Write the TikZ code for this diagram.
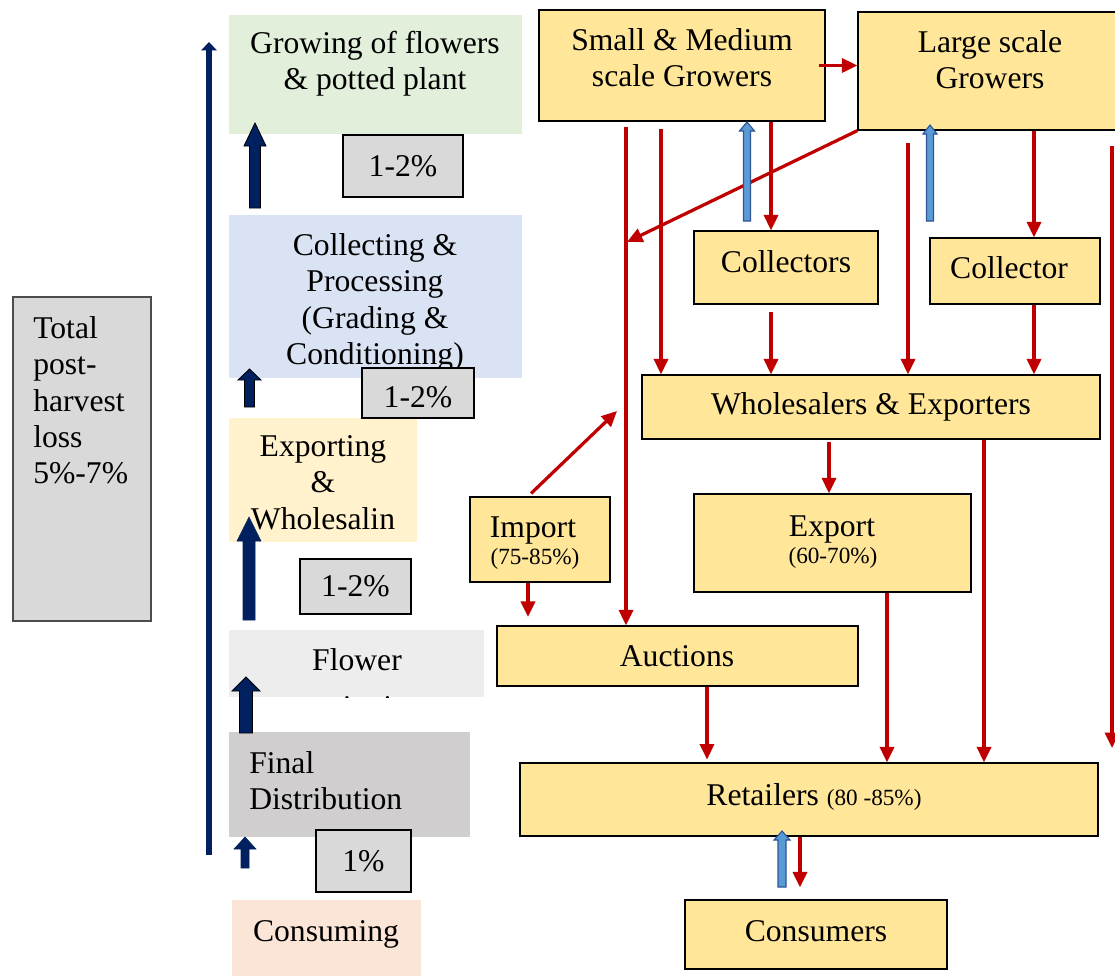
\documentclass[tikz,border=0pt]{standalone}
\usepackage{fontspec}
\setmainfont{Liberation Serif}
\usepackage{xcolor}
\usepackage{tikz}
\usetikzlibrary{arrows.meta,fit}

\definecolor{growfill}{HTML}{E2EFDA}
\definecolor{collfill}{HTML}{DAE3F3}
\definecolor{expfill}{HTML}{FFF2CC}
\definecolor{flwrfill}{HTML}{EDEDED}
\definecolor{distfill}{HTML}{D0CECE}
\definecolor{cnsmfill}{HTML}{FBE5D6}
\definecolor{lossfill}{HTML}{D9D9D9}
\definecolor{actorfill}{HTML}{FFE699}
\definecolor{navy}{HTML}{002060}
\definecolor{flowred}{HTML}{C00000}
\definecolor{backfill}{HTML}{5B9BD5}
\definecolor{backdraw}{HTML}{2F5597}

\newcommand{\bigtxt}{\fontsize{22.5}{25.9}\selectfont}
\newcommand{\smalltxt}{\fontsize{16.5}{19}\selectfont}

% block arrow pointing up: style, x, y of foot, y of tip, half shaft, half head, head length
\newcommand{\blockarr}[7]{%
	\draw[#1] ({#2-#5},#3) -- ({#2-#5},{#4+#7}) -- ({#2-#6},{#4+#7}) -- (#2,#4)
	-- ({#2+#6},{#4+#7}) -- ({#2+#5},{#4+#7}) -- ({#2+#5},#3) -- cycle;}

\tikzset{stage/.style={draw=none, inner sep=0pt},
	actor/.style={draw=black, fill=actorfill, line width=0.9pt, inner sep=0pt},
	loss/.style={draw=black, fill=lossfill, line width=1.2pt, inner sep=0pt},
	words/.style={font=\bigtxt, align=center, inner sep=0pt},
	flow/.style={draw=flowred, line width=2.3pt, -{Triangle[length=11pt,width=10pt]}},
	navyarr/.style={fill=navy, draw=black, line width=0.6pt},
	navyflat/.style={fill=navy, draw=navy, line width=0.4pt},
	backarr/.style={fill=backfill, draw=backdraw, line width=0.8pt}}

\begin{document}
\begin{tikzpicture}[x=0.025cm, y=-0.025cm, line join=miter]
	\fill[white] (0,0) rectangle (1115,975);
	\useasboundingbox (0,0) rectangle (1115,975);
	
	% stages of the chain
	\node[stage, fill=growfill, fit={(229,15) (522,134)}] (grow) {};
	\node[stage, fill=collfill, fit={(229,215) (522,378)}] (coll) {};
	\node[stage, fill=expfill, fit={(229,418) (417,542)}] (expw) {};
	\node[stage, fill=flwrfill, fit={(229,630) (484,697)}] (flwr) {};
	\node[stage, fill=distfill, fit={(229,732) (470,837)}] (dist) {};
	\node[stage, fill=cnsmfill, fit={(232,900) (421,980)}] (cnsm) {};
	
	\node[words, anchor=north] (growt) at (375,31) {Growing of flowers\\\& potted plant};
	\node[words, anchor=north] (collt) at (375,233) {Collecting \&\\Processing\\(Grading \&\\Conditioning)};
	\node[words, anchor=north] (expwt) at (323,435) {Exporting\\\&\\Wholesalin};
	\begin{scope}
		\clip (229,630) rectangle (484,697);
		\node[words, anchor=north] (flwrt) at (357,648) {Flower\\[7.8pt]auctioning};
	\end{scope}
	\node[words, align=left, anchor=north west] (distt) at (249,751) {Final\\Distribution};
	\node[words, anchor=base] (cnsmt) at (326,941) {Consuming};
	
	% losses
	\node[loss, fit={(343,135) (463,197)}] (loss1) {};
	\node[words] at (loss1) {1-2\%};
	\node[loss, fit={(362,368) (474,418)}] (loss2) {};
	\node[words] at ([yshift=-3pt]loss2.center) {1-2\%};
	\node[loss, fit={(300,559) (411,614)}] (loss3) {};
	\node[words] at (loss3) {1-2\%};
	\node[loss, fit={(316,830) (411,892)}] (loss4) {};
	\node[words] at (loss4) {1\%};
	
	\node[draw=black!70, fill=lossfill, line width=0.8pt, inner sep=0pt, fit={(13,297) (151,621)}] (total) {};
	\node[words, align=left, anchor=north west] (totalt) at (33,316) {Total\\post-\\harvest\\loss\\5\%-7\%};
	
	% arrows of the chain
	\draw[navy, line width=4.3pt, -{Triangle[length=6pt,width=11pt]}] (209,855) -- (209,42);
	\blockarr{navyarr}{255}{208}{123}{5.5}{11}{23}
	\blockarr{navyarr}{249.5}{407}{369}{5}{11.5}{11}
	\blockarr{navyflat}{249}{620}{517}{6}{12}{24}
	\blockarr{navyarr}{246}{733}{677}{6.5}{14}{14}
	\blockarr{navyflat}{245}{868}{837}{4}{11}{12}
	
	% actors
	\node[actor, fit={(539,10) (825,121)}] (smg) {};
	\node[actor, fit={(858,12) (1125,130)}] (lsg) {};
	\node[actor, fit={(694,231) (878,304)}] (col1) {};
	\node[actor, fit={(930,238) (1100,304)}] (col2) {};
	\node[actor, fit={(642,375) (1100,439)}] (whol) {};
	\node[actor, fit={(470,497) (610,582)}] (imp) {};
	\node[actor, fit={(694,494) (971,592)}] (expo) {};
	\node[actor, fit={(497,626) (858,686)}] (auc) {};
	\node[actor, fit={(520,763) (1098,836)}] (ret) {};
	\node[actor, fit={(685,900) (947,969)}] (cons) {};
	
	\node[words, anchor=north] (smgt) at (682,28) {Small \& Medium\\scale Growers};
	\node[words, anchor=north] (lsgt) at (990,30) {Large scale\\Growers};
	\node[words, anchor=base] (col1t) at (786,272) {Collectors};
	\node[words, anchor=base] (col2t) at (1009,278) {Collector};
	\node[words, anchor=base] (wholt) at (871,414) {Wholesalers \& Exporters};
	\node[words, anchor=base] (impt) at (533,537) {Import};
	\node[words, anchor=base, font=\smalltxt] (impp) at (535,564) {(75-85\%)};
	\node[words, anchor=base] (expot) at (832,536) {Export};
	\node[words, anchor=base, font=\smalltxt] (expop) at (833,563) {(60-70\%)};
	\node[words, anchor=base] (auct) at (677,666) {Auctions};
	\node[words, anchor=base] (rett) at (814,805) {Retailers {\smalltxt(80 -85\%)}};
	\node[words, anchor=base] (const) at (816,941) {Consumers};
	
	% columns of the flows
	\coordinate (xa) at (626,0);
	\coordinate (xb) at (661,0);
	\coordinate (xc) at (771,0);
	\coordinate (xd) at (908,0);
	\coordinate (xe) at (1034,0);
	\coordinate (xf) at (1112,0);
	\coordinate (xg) at (829,0);
	\coordinate (xh) at (984,0);
	\coordinate (xi) at (528,0);
	\coordinate (xj) at (707,0);
	\coordinate (xk) at (887,0);
	\coordinate (xl) at (800,0);
	\coordinate (dg) at (627,242);
	\coordinate (ie) at (617,411);
	\coordinate (re) at (1112,748);
	
	% flows
	\draw[flow, shorten <=-5pt] (smg.east) -- (smg.east -| lsg.west);
	\draw[flow, shorten <=3.5pt] (smg.south -| xa) -- (auc.north -| xa);
	\draw[flow, shorten <=5pt] (smg.south -| xb) -- (whol.north -| xb);
	\draw[flow] (smg.south -| xc) -- (col1.north -| xc);
	\draw[flow] (lsg.south west) -- (dg);
	\draw[flow, shorten <=8.5pt] (lsg.south -| xd) -- (whol.north -| xd);
	\draw[flow] (lsg.south -| xe) -- (col2.north -| xe);
	\draw[flow, shorten <=11pt] (lsg.south -| xf) -- (re);
	\draw[flow, shorten <=5.5pt] (col1.south -| xc) -- (whol.north -| xc);
	\draw[flow] (col2.south -| xe) -- (whol.north -| xe);
	\draw[flow, shorten <=3pt] (imp.north -| xi) -- (ie);
	\draw[flow, shorten <=2pt] (whol.south -| xg) -- (expo.north -| xg);
	\draw[flow] (whol.south -| xh) -- (ret.north -| xh);
	\draw[flow, shorten >=6pt] (imp.south -| xi) -- (auc.north -| xi);
	\draw[flow, shorten >=2pt] (auc.south -| xj) -- (ret.north -| xj);
	\draw[flow] (expo.south -| xk) -- (ret.north -| xk);
	\draw[flow, shorten >=8.5pt] (ret.south -| xl) -- (cons.north -| xl);
	
	% flows back
	\blockarr{backarr}{747}{221}{122}{3.5}{7.5}{9}
	\blockarr{backarr}{930}{221}{125}{3.5}{7}{9}
	\blockarr{backarr}{782}{887}{831}{4}{8}{9}
\end{tikzpicture}
\end{document}
